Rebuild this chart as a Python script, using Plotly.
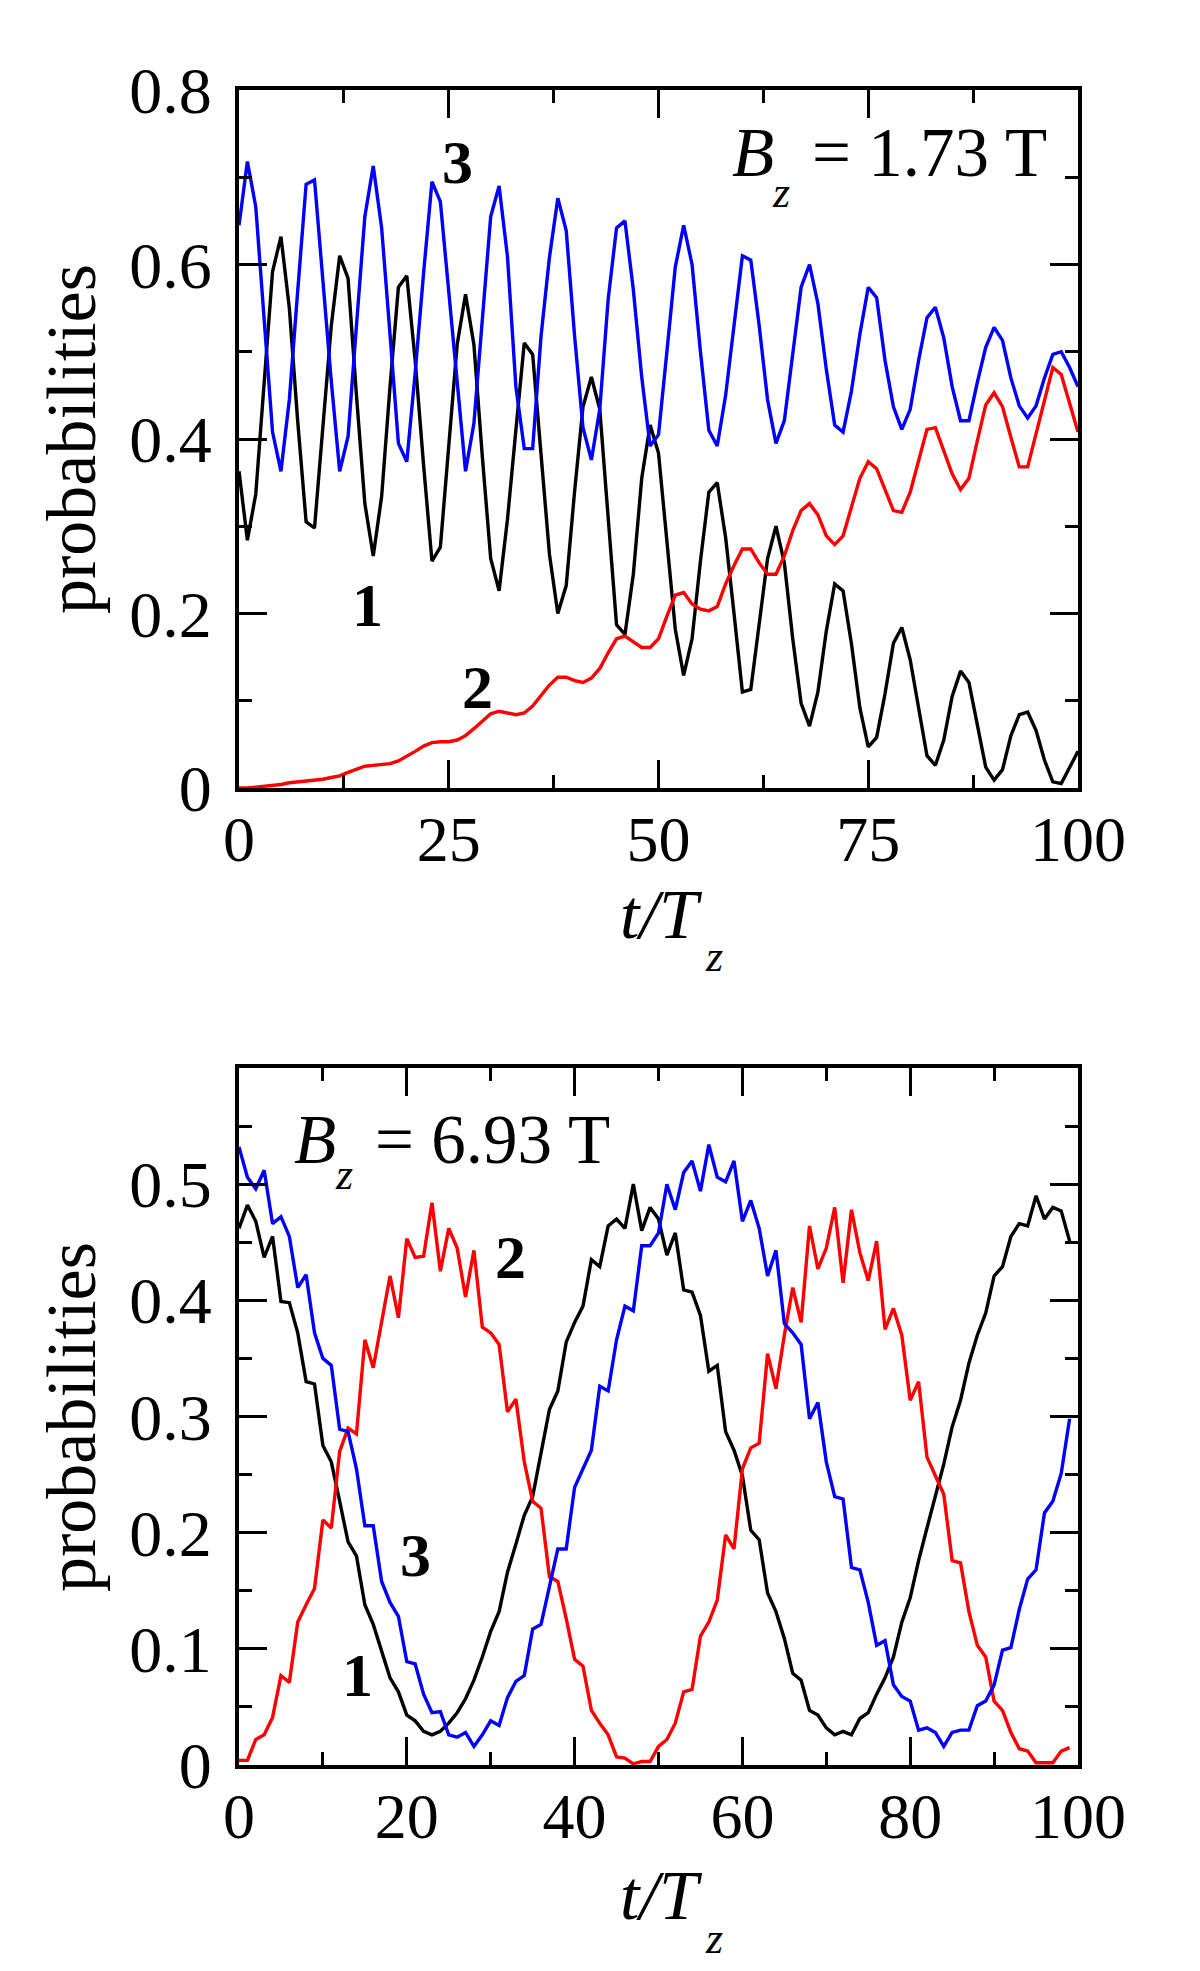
import plotly.graph_objects as go

# ---------------- data: top panel (B_z = 1.73 T) ----------------
t_top = list(range(101))
p1_top = [0.363, 0.284, 0.337, 0.470, 0.592, 0.632, 0.550, 0.420, 0.305, 0.298,
          0.410, 0.530, 0.610, 0.584, 0.450, 0.326, 0.266, 0.334, 0.460, 0.574,
          0.587, 0.490, 0.370, 0.260, 0.276, 0.390, 0.508, 0.566, 0.508, 0.380,
          0.263, 0.226, 0.308, 0.410, 0.510, 0.497, 0.380, 0.268, 0.200, 0.232,
          0.340, 0.437, 0.471, 0.434, 0.310, 0.187, 0.176, 0.245, 0.355, 0.416,
          0.384, 0.280, 0.182, 0.129, 0.171, 0.260, 0.339, 0.350, 0.287, 0.200,
          0.110, 0.113, 0.190, 0.263, 0.300, 0.258, 0.171, 0.097, 0.071, 0.110,
          0.180, 0.234, 0.226, 0.165, 0.092, 0.047, 0.058, 0.108, 0.166, 0.184,
          0.147, 0.092, 0.037, 0.026, 0.055, 0.105, 0.134, 0.121, 0.074, 0.024,
          0.009, 0.021, 0.060, 0.084, 0.087, 0.066, 0.032, 0.007, 0.005, 0.024,
          0.042]
p2_top = [0.000, 0.000, 0.001, 0.002, 0.003, 0.004, 0.006, 0.007, 0.008, 0.009,
          0.010, 0.012, 0.014, 0.018, 0.022, 0.025, 0.026, 0.027, 0.028, 0.031,
          0.036, 0.042, 0.048, 0.052, 0.053, 0.053, 0.055, 0.060, 0.068, 0.077,
          0.085, 0.088, 0.086, 0.084, 0.086, 0.094, 0.106, 0.118, 0.127, 0.127,
          0.123, 0.121, 0.126, 0.137, 0.155, 0.171, 0.174, 0.168, 0.161, 0.161,
          0.171, 0.197, 0.221, 0.224, 0.211, 0.205, 0.203, 0.208, 0.234, 0.255,
          0.274, 0.274, 0.258, 0.245, 0.245, 0.266, 0.295, 0.318, 0.326, 0.313,
          0.289, 0.279, 0.289, 0.322, 0.355, 0.374, 0.366, 0.342, 0.318, 0.316,
          0.339, 0.375, 0.411, 0.413, 0.387, 0.360, 0.342, 0.355, 0.398, 0.439,
          0.453, 0.437, 0.402, 0.368, 0.368, 0.405, 0.445, 0.482, 0.474, 0.442,
          0.408]
p3_top = [0.645, 0.718, 0.666, 0.540, 0.408, 0.363, 0.445, 0.570, 0.692, 0.697,
          0.580, 0.466, 0.363, 0.403, 0.530, 0.655, 0.713, 0.642, 0.520, 0.395,
          0.374, 0.476, 0.590, 0.695, 0.672, 0.570, 0.471, 0.363, 0.418, 0.540,
          0.655, 0.690, 0.609, 0.460, 0.389, 0.389, 0.518, 0.608, 0.676, 0.639,
          0.518, 0.413, 0.376, 0.434, 0.560, 0.642, 0.650, 0.571, 0.471, 0.392,
          0.405, 0.500, 0.597, 0.645, 0.600, 0.500, 0.410, 0.392, 0.450, 0.530,
          0.610, 0.605, 0.530, 0.445, 0.395, 0.421, 0.500, 0.574, 0.600, 0.555,
          0.480, 0.416, 0.408, 0.455, 0.520, 0.574, 0.562, 0.490, 0.437, 0.411,
          0.434, 0.490, 0.539, 0.551, 0.516, 0.460, 0.421, 0.421, 0.465, 0.505,
          0.528, 0.513, 0.470, 0.438, 0.424, 0.438, 0.470, 0.497, 0.500, 0.482,
          0.460]

# ---------------- data: bottom panel (B_z = 6.93 T) ----------------
t_bot = list(range(100))
p1_bot = [0.462, 0.482, 0.468, 0.437, 0.455, 0.399, 0.398, 0.372, 0.330, 0.328,
          0.275, 0.261, 0.227, 0.192, 0.180, 0.138, 0.121, 0.097, 0.075, 0.063,
          0.043, 0.038, 0.029, 0.026, 0.029, 0.036, 0.045, 0.057, 0.073, 0.093,
          0.115, 0.132, 0.166, 0.190, 0.215, 0.231, 0.267, 0.306, 0.322, 0.364,
          0.381, 0.395, 0.435, 0.429, 0.464, 0.470, 0.462, 0.500, 0.460, 0.480,
          0.470, 0.439, 0.458, 0.409, 0.407, 0.387, 0.339, 0.344, 0.287, 0.271,
          0.249, 0.202, 0.194, 0.148, 0.132, 0.109, 0.079, 0.073, 0.047, 0.043,
          0.032, 0.026, 0.029, 0.026, 0.040, 0.045, 0.061, 0.075, 0.093, 0.123,
          0.144, 0.176, 0.204, 0.231, 0.259, 0.291, 0.314, 0.346, 0.370, 0.389,
          0.421, 0.429, 0.455, 0.466, 0.464, 0.490, 0.470, 0.480, 0.477, 0.451]
p2_bot = [0.004, 0.004, 0.022, 0.026, 0.041, 0.077, 0.071, 0.123, 0.138, 0.152,
          0.211, 0.204, 0.270, 0.290, 0.285, 0.366, 0.342, 0.380, 0.421, 0.385,
          0.453, 0.437, 0.438, 0.484, 0.425, 0.462, 0.445, 0.403, 0.443, 0.377,
          0.372, 0.362, 0.304, 0.315, 0.261, 0.227, 0.221, 0.162, 0.158, 0.126,
          0.091, 0.085, 0.047, 0.036, 0.026, 0.007, 0.006, 0.001, 0.003, 0.003,
          0.016, 0.022, 0.036, 0.063, 0.065, 0.111, 0.123, 0.142, 0.198, 0.186,
          0.255, 0.273, 0.277, 0.354, 0.324, 0.370, 0.411, 0.381, 0.464, 0.427,
          0.445, 0.480, 0.415, 0.478, 0.441, 0.417, 0.451, 0.375, 0.393, 0.370,
          0.314, 0.330, 0.265, 0.249, 0.233, 0.176, 0.174, 0.132, 0.103, 0.093,
          0.055, 0.047, 0.028, 0.014, 0.012, 0.002, 0.002, 0.002, 0.012, 0.015]
p3_bot = [0.532, 0.506, 0.496, 0.512, 0.466, 0.472, 0.455, 0.411, 0.422, 0.372,
          0.350, 0.344, 0.289, 0.287, 0.255, 0.206, 0.206, 0.158, 0.140, 0.128,
          0.089, 0.087, 0.061, 0.045, 0.046, 0.026, 0.024, 0.028, 0.016, 0.026,
          0.038, 0.034, 0.058, 0.072, 0.077, 0.117, 0.121, 0.152, 0.186, 0.186,
          0.239, 0.255, 0.271, 0.326, 0.322, 0.366, 0.395, 0.391, 0.447, 0.447,
          0.458, 0.500, 0.478, 0.510, 0.520, 0.494, 0.534, 0.506, 0.502, 0.520,
          0.468, 0.486, 0.462, 0.421, 0.443, 0.380, 0.372, 0.362, 0.298, 0.312,
          0.261, 0.231, 0.229, 0.170, 0.168, 0.140, 0.103, 0.107, 0.069, 0.059,
          0.055, 0.030, 0.032, 0.028, 0.016, 0.028, 0.030, 0.030, 0.051, 0.055,
          0.069, 0.099, 0.101, 0.134, 0.160, 0.168, 0.217, 0.227, 0.251, 0.298]

# tick values / labels
top_x_ticks = [0, 25, 50, 75, 100]
top_x_minor = [12.5, 37.5, 62.5, 87.5]
top_y_ticks = [0, 0.2, 0.4, 0.6, 0.8]
top_y_labels = ["0", "0.2", "0.4", "0.6", "0.8"]
top_y_minor = [0.1, 0.3, 0.5, 0.7]
bot_x_ticks = [0, 20, 40, 60, 80, 100]
bot_x_minor = [10, 30, 50, 70, 90]
bot_y_ticks = [0, 0.1, 0.2, 0.3, 0.4, 0.5]
bot_y_labels = ["0", "0.1", "0.2", "0.3", "0.4", "0.5"]
bot_y_minor = [0.05, 0.15, 0.25, 0.35, 0.45, 0.55]

FONT = "Liberation Serif"
W, H = 1200, 1971
colors = {"1": "#000000", "2": "#ff0000", "3": "#0000ff"}

fig = go.Figure()
for xs, ys, key in [(t_top, p1_top, "1"), (t_top, p2_top, "2"), (t_top, p3_top, "3")]:
    fig.add_trace(go.Scatter(x=xs, y=ys, mode="lines", line=dict(color=colors[key], width=3.4),
                             xaxis="x", yaxis="y", showlegend=False, hoverinfo="skip"))
for xs, ys, key in [(t_bot, p1_bot, "1"), (t_bot, p2_bot, "2"), (t_bot, p3_bot, "3")]:
    fig.add_trace(go.Scatter(x=xs, y=ys, mode="lines", line=dict(color=colors[key], width=3.4),
                             xaxis="x2", yaxis="y2", showlegend=False, hoverinfo="skip"))

xdom = [239 / W, 1078 / W]
top_dom = [1 - 788 / H, 1 - 90 / H]
bot_dom = [1 - 1765 / H, 1 - 1068 / H]


def axis(domain, anchor, rng, tickvals, ticktext, minorvals, fsize, standoff):
    return dict(domain=domain, anchor=anchor, range=rng, tickmode="array",
                tickvals=tickvals, ticktext=ticktext, ticks="inside", ticklen=28,
                tickwidth=3, tickcolor="black", showline=True, linewidth=4,
                linecolor="black", mirror="ticks", showgrid=False, zeroline=False,
                automargin=False,
                tickfont=dict(family=FONT, size=fsize, color="black"),
                ticklabelstandoff=standoff,
                minor=dict(tickmode="array", tickvals=minorvals, ticks="inside",
                           ticklen=13, tickwidth=3, tickcolor="black", showgrid=False))


fig.update_layout(
    template="none",
    width=W, height=H, margin=dict(l=0, r=0, t=0, b=0, autoexpand=False),
    paper_bgcolor="white", plot_bgcolor="white",
    xaxis=axis(xdom, "y", [0, 100], top_x_ticks, [str(v) for v in top_x_ticks], top_x_minor, 64, -8),
    yaxis=axis(top_dom, "x", [0, 0.8], top_y_ticks, top_y_labels, top_y_minor, 66, 10),
    xaxis2=axis(xdom, "y2", [0, 100], bot_x_ticks, [str(v) for v in bot_x_ticks], bot_x_minor, 64, -8),
    yaxis2=axis(bot_dom, "x2", [0, 0.6], bot_y_ticks, bot_y_labels, bot_y_minor, 66, 10),
)


def px_x(p):
    return p / W


def px_y(p):
    return 1 - p / H


ann = []
# y-axis titles
for yc in [439, 1417]:
    ann.append(dict(text="probabilities", xref="paper", yref="paper", x=px_x(71), y=px_y(yc),
                    textangle=-90, showarrow=False, xanchor="center", yanchor="middle",
                    font=dict(family=FONT, size=70, color="black")))
# x-axis titles: t/T with subscript z
for dy in [0, 981]:
    ann.append(dict(text="t/T", xref="paper", yref="paper", x=px_x(661), y=px_y(914 + dy),
                    showarrow=False, xanchor="center", yanchor="middle",
                    font=dict(family=FONT, size=70, color="black", style="italic")))
    ann.append(dict(text="z", xref="paper", yref="paper", x=px_x(714), y=px_y(957 + dy),
                    showarrow=False, xanchor="center", yanchor="middle",
                    font=dict(family=FONT, size=44, color="black", style="italic")))

# field labels: B_z = ... T
for xr, yr, bx, by, zx, zy, ex, val in [
        ("x", "y", 58.5, 0.7278, 64.6, 0.6827, 68.06, "= 1.73 T"),
        ("x2", "y2", 6.32, 0.5384, 12.5, 0.5079, 15.97, "= 6.93 T")]:
    ann.append(dict(text="B", xref=xr, yref=yr, x=bx, y=by, showarrow=False,
                    xanchor="left", yanchor="middle",
                    font=dict(family=FONT, size=69, color="black", style="italic")))
    ann.append(dict(text="z", xref=xr, yref=yr, x=zx, y=zy, showarrow=False,
                    xanchor="center", yanchor="middle",
                    font=dict(family=FONT, size=44, color="black", style="italic")))
    ann.append(dict(text=val, xref=xr, yref=yr, x=ex, y=by, showarrow=False,
                    xanchor="left", yanchor="middle",
                    font=dict(family=FONT, size=69, color="black")))

# curve numbers
for txt, x, y, xr, yr in [("3", 26.0, 0.7175, "x", "y"), ("1", 15.3, 0.210, "x", "y"),
                          ("2", 28.4, 0.116, "x", "y"), ("2", 32.4, 0.437, "x2", "y2"),
                          ("3", 21.0, 0.181, "x2", "y2"), ("1", 14.1, 0.0775, "x2", "y2")]:
    ann.append(dict(text=txt, xref=xr, yref=yr, x=x, y=y, showarrow=False,
                    xanchor="center", yanchor="middle",
                    font=dict(family=FONT, size=62, color="black", weight="bold")))
fig.update_layout(annotations=ann)

fig.write_html("out.html", config={"displayModeBar": False},
               post_script="document.body.style.margin='0px';")
